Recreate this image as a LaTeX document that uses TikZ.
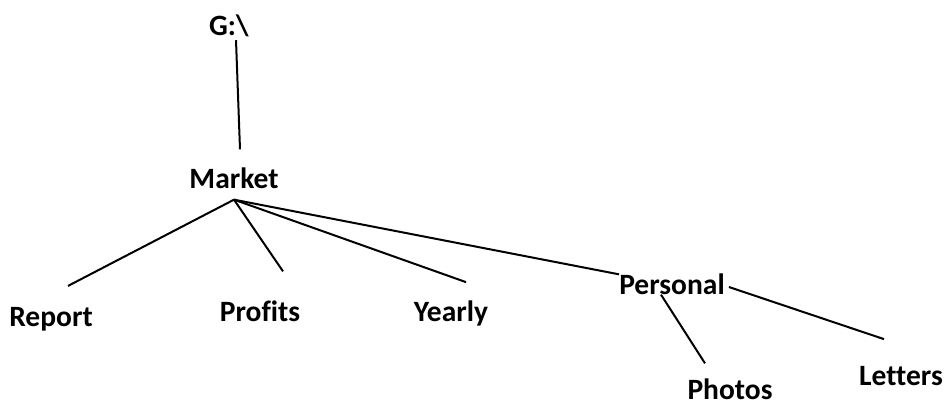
\documentclass[tikz,border=0pt]{standalone}
\usepackage{fontspec}
\setmainfont{Carlito}[Ligatures=NoCommon]
\begin{document}
\begin{tikzpicture}[x=1pt,y=-1pt,
	dir/.style={font=\bfseries\fontsize{29.5}{34}\selectfont,inner sep=0pt},
	link/.style={line width=2pt}]
	\useasboundingbox (0,0) rectangle (949,405);
	% folder names
	\node [dir] (drive) at (229,26) {G:\textbackslash};
	\node [dir] (market) at (234,178) {Market};
	\node [dir] (report) at (51,319) {Report};
	\node [dir] (profits) at (260,311) {Profits};
	\node [dir] (yearly) at (451,313) {Yearly};
	\node [dir] (personal) at (672,284) {Personal};
	\node [dir] (photos) at (730,389) {Photos};
	\node [dir] (letters) at (901,376) {Letters};
	% branches
	\coordinate (hub) at ([yshift=-11pt]market.south);
	\draw [link] ([shift={(7pt,-3pt)}]drive.south) -- ([shift={(6pt,18pt)}]market.north);
	\draw [link] (hub) -- ([shift={(17pt,21pt)}]report.north);
	\draw [link] (hub) -- ([shift={(23pt,29pt)}]profits.north);
	\draw [link] (hub) -- ([shift={(15pt,18pt)}]yearly.north);
	\draw [link] (hub) -- ([shift={(0pt,-1pt)}]personal.north west);
	\draw [link] ([shift={(4pt,-3pt)}]personal.east) -- ([shift={(-17pt,27pt)}]letters.north);
	\draw [link] ([shift={(-11pt,0pt)}]personal.south) -- ([shift={(-25pt,15pt)}]photos.north);
\end{tikzpicture}
\end{document}
